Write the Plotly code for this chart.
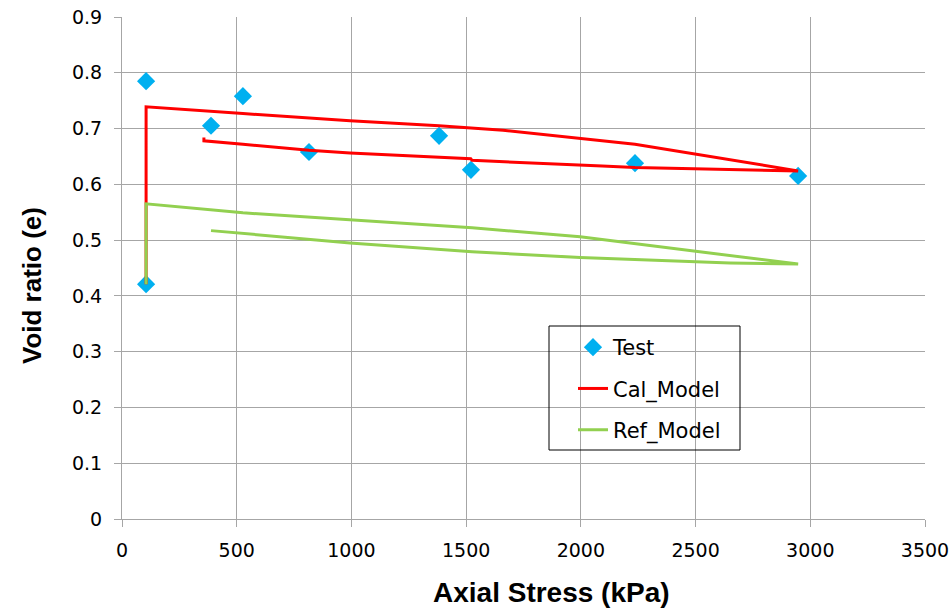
import plotly.graph_objects as go

# Measured oedometer test points
test_stress = [105, 527, 1382, 2236, 2947, 1521, 815, 388, 105]
test_void = [0.785, 0.758, 0.687, 0.638, 0.615, 0.626, 0.658, 0.705, 0.421]

# Calibrated model: reload, loading branch, unloading branch
cal_stress = [105, 105, 527, 994, 1382, 1661, 2236, 2947, 2236, 2093, 1526, 1520, 994, 815, 527, 357, 357]
cal_void = [0.421, 0.739, 0.727, 0.714, 0.705, 0.697, 0.672, 0.624, 0.630, 0.633, 0.643, 0.646, 0.656, 0.661, 0.672, 0.678, 0.684]

# Reference model: same path with reference parameters
ref_stress = [105, 105, 527, 994, 1526, 1997, 2236, 2947, 2650, 2302, 1997, 1526, 994, 388]
ref_void = [0.421, 0.565, 0.549, 0.537, 0.522, 0.506, 0.494, 0.457, 0.459, 0.464, 0.469, 0.479, 0.495, 0.517]

x_ticks = [0, 500, 1000, 1500, 2000, 2500, 3000, 3500]
y_ticks = [0, 0.1, 0.2, 0.3, 0.4, 0.5, 0.6, 0.7, 0.8, 0.9]

TICK_FONT = "DejaVu Sans, sans-serif"
TITLE_FONT = "Liberation Sans, Arial, sans-serif"
GRID = "#A6A6A6"

# plot-area geometry in pixels (used for frame/title placement in paper coords)
L, R, T, B = 122, 925, 17, 519
W, H = R - L, B - T


def px_x(p):
    return (p - L) / W


def px_y(p):
    return (B - p) / H


fig = go.Figure()
fig.add_trace(go.Scatter(
    x=test_stress, y=test_void, mode="markers", name="Test",
    marker=dict(symbol="diamond", size=14, color="#00B0F0"),
    legendgroup="a",
))
fig.add_trace(go.Scatter(
    x=cal_stress, y=cal_void, mode="lines", name="Cal_Model",
    line=dict(color="#FF0000", width=3),
    legendgroup="b",
))
fig.add_trace(go.Scatter(
    x=ref_stress, y=ref_void, mode="lines", name="Ref_Model",
    line=dict(color="#92D050", width=3),
    legendgroup="c",
))

# legend frame
fig.add_shape(type="rect", xref="paper", yref="paper",
              x0=px_x(549), x1=px_x(740), y0=px_y(450), y1=px_y(326),
              line=dict(color="#000000", width=1), fillcolor="rgba(0,0,0,0)")

# axis titles
fig.add_annotation(text="<b>Axial Stress (kPa)</b>", xref="paper", yref="paper",
                   x=px_x(551), y=px_y(592), xanchor="center", yanchor="middle",
                   showarrow=False, font=dict(family=TITLE_FONT, size=28))
fig.add_annotation(text="<b>Void ratio (e)</b>", xref="paper", yref="paper",
                   x=px_x(32), y=px_y(286), xanchor="center", yanchor="middle",
                   textangle=-90, showarrow=False,
                   font=dict(family=TITLE_FONT, size=26))

fig.update_layout(
    width=952, height=614,
    margin=dict(l=L, r=952 - R, t=T, b=614 - B, autoexpand=False),
    paper_bgcolor="white", plot_bgcolor="white",
    font=dict(family=TICK_FONT, size=19, color="#000000"),
    legend=dict(
        x=px_x(573), y=px_y(327), xanchor="left", yanchor="top",
        bgcolor="rgba(0,0,0,0)", borderwidth=0, tracegroupgap=11,
        font=dict(family=TICK_FONT, size=21),
    ),
    xaxis=dict(
        range=[0, 3500], tickvals=x_ticks, ticktext=[str(v) for v in x_ticks],
        showgrid=True, gridcolor=GRID, gridwidth=1,
        showline=True, linecolor=GRID, linewidth=1,
        ticks="outside", ticklen=7, tickcolor=GRID, ticklabelstandoff=7,
        tickfont=dict(family=TICK_FONT, size=19),
        zeroline=False, automargin=False,
    ),
    yaxis=dict(
        range=[0, 0.9], tickvals=y_ticks, ticktext=[f"{v:g}" for v in y_ticks],
        showgrid=True, gridcolor=GRID, gridwidth=1,
        showline=True, linecolor=GRID, linewidth=1,
        ticks="outside", ticklen=7, tickcolor=GRID, ticklabelstandoff=8,
        tickfont=dict(family=TICK_FONT, size=19),
        zeroline=False, automargin=False,
    ),
)

fig.write_html("out.html")
